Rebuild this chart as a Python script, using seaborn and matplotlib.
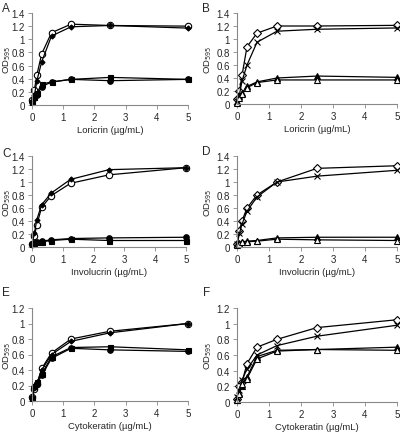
import matplotlib
matplotlib.use("Agg")
import matplotlib.pyplot as plt
import seaborn as sns
import pandas as pd

sns.set_style("ticks")
plt.rcParams['font.family'] = ['Liberation Sans', 'DejaVu Sans']

conc = [0, 0.078, 0.156, 0.3125, 0.625, 1.25, 2.5, 5]

# Panel A (Loricrin)
a_open_circle = [0.07, 0.23, 0.46, 0.78, 1.10, 1.23, 1.21, 1.20]
a_fill_diamond = [0.05, 0.15, 0.37, 0.66, 1.05, 1.19, 1.21, 1.17]
a_fill_square = [0.05, 0.12, 0.18, 0.32, 0.35, 0.39, 0.42, 0.39]
a_fill_circle = [0.04, 0.10, 0.15, 0.28, 0.35, 0.39, 0.37, 0.39]
# Panel B (Loricrin)
b_open_diamond = [0.08, 0.20, 0.44, 0.88, 1.09, 1.20, 1.20, 1.21]
b_cross = [0.05, 0.15, 0.35, 0.60, 0.95, 1.12, 1.15, 1.17]
b_fill_tri = [0.03, 0.12, 0.17, 0.27, 0.34, 0.40, 0.43, 0.41]
b_open_tri = [0.02, 0.10, 0.15, 0.25, 0.33, 0.37, 0.37, 0.37]
# Panel C (Involucrin)
c_open_circle = [0.05, 0.17, 0.34, 0.61, 0.79, 0.98, 1.11, 1.22]
c_fill_diamond = [0.05, 0.21, 0.42, 0.65, 0.83, 1.04, 1.19, 1.22]
c_fill_square = [0.04, 0.06, 0.07, 0.08, 0.10, 0.12, 0.10, 0.10]
c_fill_circle = [0.04, 0.06, 0.08, 0.09, 0.11, 0.13, 0.14, 0.15]
# Panel D (Involucrin)
d_open_diamond = [0.05, 0.25, 0.40, 0.60, 0.80, 1.00, 1.21, 1.25]
d_cross = [0.04, 0.21, 0.35, 0.55, 0.77, 1.00, 1.09, 1.18]
d_fill_tri = [0.04, 0.06, 0.08, 0.09, 0.10, 0.14, 0.15, 0.15]
d_open_tri = [0.03, 0.05, 0.07, 0.08, 0.09, 0.12, 0.11, 0.10]
# Panel E (Cytokeratin)
e_open_circle = [0.05, 0.15, 0.22, 0.42, 0.62, 0.80, 0.90, 1.00]
e_fill_diamond = [0.05, 0.17, 0.22, 0.40, 0.60, 0.77, 0.88, 1.00]
e_fill_square = [0.04, 0.20, 0.25, 0.35, 0.57, 0.69, 0.70, 0.66]
e_fill_circle = [0.04, 0.18, 0.22, 0.33, 0.55, 0.68, 0.66, 0.64]
# Panel F (Cytokeratin)
f_open_diamond = [0.04, 0.20, 0.25, 0.49, 0.70, 0.80, 0.95, 1.05]
f_cross = [0.06, 0.15, 0.28, 0.42, 0.60, 0.72, 0.84, 0.98]
f_fill_tri = [0.03, 0.12, 0.20, 0.32, 0.58, 0.66, 0.67, 0.70]
f_open_tri = [0.03, 0.10, 0.23, 0.30, 0.55, 0.65, 0.67, 0.66]

left_styles = [
    dict(marker='o', mfc='white', ms=4.6),
    dict(marker='D', mfc='black', ms=2.6),
    dict(marker='s', mfc='black', ms=3.6),
    dict(marker='o', mfc='black', ms=4.0),
]
right_styles = [
    dict(marker='D', mfc='white', ms=3.6),
    dict(marker='x', mfc='black', ms=4.4),
    dict(marker='^', mfc='black', ms=4.4),
    dict(marker='^', mfc='white', ms=4.4),
]

panels = [
    ('A', [a_open_circle, a_fill_diamond, a_fill_square, a_fill_circle], left_styles, 'Loricrin (µg/mL)', 1.4),
    ('B', [b_open_diamond, b_cross, b_fill_tri, b_open_tri], right_styles, 'Loricrin (µg/mL)', 1.4),
    ('C', [c_open_circle, c_fill_diamond, c_fill_square, c_fill_circle], left_styles, 'Involucrin (µg/mL)', 1.4),
    ('D', [d_open_diamond, d_cross, d_fill_tri, d_open_tri], right_styles, 'Involucrin (µg/mL)', 1.4),
    ('E', [e_open_circle, e_fill_diamond, e_fill_square, e_fill_circle], left_styles, 'Cytokeratin (µg/mL)', 1.2),
    ('F', [f_open_diamond, f_cross, f_fill_tri, f_open_tri], right_styles, 'Cytokeratin (µg/mL)', 1.2),
]

W, H = 400, 439
fig = plt.figure(figsize=(W / 100, H / 100), dpi=100)

# pixel boxes: (left, right, top, bottom)
boxes = {
    'A': (32, 188, 14, 106),
    'B': (237, 397, 14, 105),
    'C': (32, 186, 157, 248),
    'D': (237, 397, 157, 248),
    'E': (32, 188, 309, 402),
    'F': (237, 397, 309, 403),
}
ylabel_x = {'A': 13, 'B': 214, 'C': 13, 'D': 214, 'E': 13, 'F': 214}
letter_pos = {'A': (2, 12), 'B': (202, 12), 'C': (2, 157), 'D': (202, 155), 'E': (2, 296), 'F': (203, 296)}

for name, series, styles, xlabel, ymax in panels:
    l, r, t, b = boxes[name]
    ax = fig.add_axes([l / W, 1 - b / H, (r - l) / W, (b - t) / H])
    for ys, st in zip(series, styles):
        df = pd.DataFrame({'x': conc, 'y': ys})
        sns.lineplot(data=df, x='x', y='y', ax=ax, color='black', lw=0.9,
                     marker=st['marker'], markerfacecolor=st['mfc'],
                     markeredgecolor='black', markersize=st['ms'],
                     markeredgewidth=0.8, clip_on=False)
    ax.set_xlim(0, 5)
    ax.set_ylim(0, ymax)
    ax.set_xticks([0, 1, 2, 3, 4, 5])
    ax.set_xticklabels(['0', '1', '2', '3', '4', '5'])
    step = 0.2
    yt = [round(i * step, 1) for i in range(int(round(ymax / step)) + 1)]
    ax.set_yticks(yt)
    ax.set_yticklabels(['0' if v == 0 else ('1' if v == 1 else f'{v:g}') for v in yt])
    ax.tick_params(labelsize=7, length=3, width=0.6, color='#888888', pad=2)
    for s in ['top', 'right']:
        ax.spines[s].set_visible(False)
    for s in ['left', 'bottom']:
        ax.spines[s].set_color('#888888')
        ax.spines[s].set_linewidth(0.8)
    ax.set_xlabel(xlabel, fontsize=6.8, labelpad=2)
    ax.set_ylabel('OD$_{595}$', fontsize=6.8, labelpad=0)
    ax.yaxis.set_label_coords((ylabel_x[name] - l) / (r - l), 0.5)
    lx, ly = letter_pos[name]
    fig.text(lx / W, 1 - ly / H, name, fontsize=8.5, ha='left', va='baseline')

fig.savefig('out.png', dpi=100)
